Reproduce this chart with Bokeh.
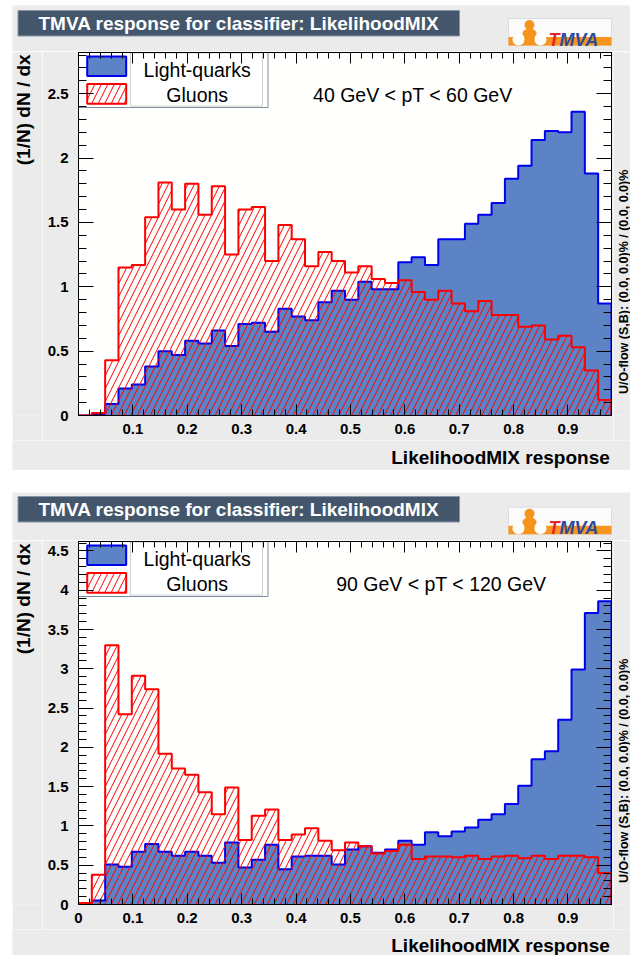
import numpy as np
from bokeh.plotting import figure
from bokeh.models import (FixedTicker, LinearAxis, BoxAnnotation, Label,
                          NumeralTickFormatter, Range1d)
from bokeh.layouts import column, row
from bokeh.embed import file_html
from bokeh.resources import INLINE
from bokeh.core.properties import value

# ---------------- data ----------------
x_low, x_high, n_bins = 0.0, 0.98, 40

top_light_quarks = [0.00, 0.01, 0.09, 0.21, 0.24, 0.38, 0.50, 0.47, 0.58, 0.56,
                    0.66, 0.54, 0.71, 0.72, 0.65, 0.83, 0.77, 0.74, 0.88, 0.97,
                    0.90, 1.04, 0.98, 0.98, 1.19, 1.23, 1.17, 1.37, 1.37, 1.49,
                    1.56, 1.65, 1.84, 1.94, 2.14, 2.21, 2.20, 2.36, 1.88, 0.87]
top_gluons = [0.00, 0.02, 0.43, 1.15, 1.17, 1.54, 1.81, 1.60, 1.80, 1.56,
              1.78, 1.25, 1.60, 1.62, 1.20, 1.48, 1.37, 1.16, 1.27, 1.20,
              1.11, 1.16, 1.06, 1.03, 1.05, 0.96, 0.90, 0.97, 0.87, 0.81,
              0.89, 0.78, 0.78, 0.69, 0.70, 0.59, 0.62, 0.53, 0.35, 0.12]

bottom_light_quarks = [0.00, 0.05, 0.51, 0.48, 0.67, 0.77, 0.67, 0.62, 0.67, 0.62,
                       0.53, 0.79, 0.47, 0.57, 0.76, 0.45, 0.61, 0.62, 0.62, 0.51,
                       0.70, 0.74, 0.66, 0.70, 0.81, 0.76, 0.92, 0.87, 0.93, 0.98,
                       1.08, 1.15, 1.28, 1.51, 1.85, 1.95, 2.35, 2.99, 3.71, 3.86]
bottom_gluons = [0.02, 0.38, 3.30, 2.42, 2.91, 2.74, 1.92, 1.73, 1.65, 1.43,
                 1.15, 1.49, 0.82, 1.13, 1.21, 0.82, 0.89, 0.97, 0.81, 0.69,
                 0.79, 0.74, 0.65, 0.68, 0.76, 0.58, 0.61, 0.61, 0.60, 0.62,
                 0.58, 0.61, 0.62, 0.59, 0.62, 0.58, 0.62, 0.62, 0.60, 0.40]

top_xticks = [0.1, 0.2, 0.3, 0.4, 0.5, 0.6, 0.7, 0.8, 0.9]
bottom_xticks = [0.0, 0.1, 0.2, 0.3, 0.4, 0.5, 0.6, 0.7, 0.8, 0.9]
top_yticks = [0, 0.5, 1, 1.5, 2, 2.5]
bottom_yticks = [0, 0.5, 1, 1.5, 2, 2.5, 3, 3.5, 4, 4.5]
top_ymax = 2.82
bottom_ymax = 4.62

title_text = "TMVA response for classifier: LikelihoodMIX"
series_names = ["Light-quarks", "Gluons"]
top_cut = "40 GeV < pT < 60 GeV"
bottom_cut = "90 GeV < pT < 120 GeV"
x_title = "LikelihoodMIX response"
y_title = "(1/N) dN / dx"
overflow_text = "U/O-flow (S,B): (0.0, 0.0)% / (0.0, 0.0)%"

# ---------------- style ----------------
FONT = "Liberation Sans"
CANVAS = "#ebebeb"
FRAME = "#fffffd"
SIG_FILL = "#5b83c6"
SIG_LINE = "#0000ee"
BKG_LINE = "#ff0000"
TITLE_BOX = "#44566b"
ORANGE = "#f7941d"
PW = 618            # panel width
LW, RW = 30, 17     # left / right strip widths
MW = PW - LW - RW   # main figure width
FL, FR_B = 36, 2    # main figure left / right borders
FT_B, FB_B = 1, 25  # main figure top / bottom borders
FRAME_H = 363


def pixel_fig(w, h):
    f = figure(width=w, height=h, x_range=Range1d(0, w), y_range=Range1d(h, 0),
               output_backend="svg", toolbar_location=None, min_border=0,
               x_axis_type=None, y_axis_type=None, title=None,
               background_fill_color=CANVAS, border_fill_color=CANVAS,
               outline_line_color=None)
    return f


def ptext(f, x, y, text, size, color="black", style="normal", align="left",
          baseline="middle", angle=0.0):
    f.text(x=[x], y=[y], text=[text], text_font=value(FONT),
           text_font_size=value(f"{size}px"), text_font_style=value(style),
           text_color=color, text_align=value(align),
           text_baseline=value(baseline), angle=angle)


def step_polygon(edges, vals):
    xs = np.concatenate([[edges[0]], np.repeat(edges, 2)[1:-1], [edges[-1]]])
    ys = np.concatenate([[0.0], np.repeat(np.asarray(vals, float), 2), [0.0]])
    return xs, ys


def cbox(p, l, r, t, b, **kw):
    opts = dict(fill_alpha=1.0, line_alpha=1.0, line_color=None, level="underlay")
    opts.update(kw)
    p.add_layout(BoxAnnotation(left=l, right=r, top=t, bottom=b,
                               left_units="canvas", right_units="canvas",
                               top_units="canvas", bottom_units="canvas", **opts))


def clabel(p, x, y, text, size, align="left"):
    p.add_layout(Label(x=x, y=y, x_units="canvas", y_units="canvas", text=text,
                       text_font=FONT, text_font_size=f"{size}px",
                       text_color="black", text_align=align,
                       text_baseline="middle"))


def style_axis(ax, major_in, minor_in, labels):
    ax.axis_line_color = "black"
    ax.axis_line_width = 1
    ax.major_tick_in = major_in
    ax.major_tick_out = 0
    ax.minor_tick_in = minor_in
    ax.minor_tick_out = 0
    ax.major_tick_line_color = "black"
    ax.minor_tick_line_color = "black"
    if labels:
        ax.major_label_text_font = FONT
        ax.major_label_text_font_style = "bold"
        ax.major_label_text_font_size = "15px"
        ax.major_label_text_color = "black"
    else:
        ax.major_label_text_font_size = "0px"
        ax.major_label_text_alpha = 0
        ax.major_label_standoff = 0


def make_panel(height, header_h, title_y, logo_y, sig, bkg, xticks, yticks,
               ymax, cut_text, cut_dx, xtitle_y):
    main_h = FT_B + FRAME_H + FB_B
    footer_h = height - header_h - main_h

    # ---- header: title box and logo ----
    hd = pixel_fig(PW, header_h)
    hd.quad(left=[5.5], right=[447], top=[title_y], bottom=[title_y + 25.5],
            fill_color=TITLE_BOX, line_color="#8795a8", line_width=1)
    ptext(hd, 26, title_y + 13, title_text, 19, color="white", style="bold")
    lx, ly = 496, logo_y
    hd.quad(left=[lx], right=[lx + 103], top=[ly], bottom=[ly + 27],
            fill_color="#fbfbfb", line_color="#dcdcdc")
    hd.quad(left=[lx], right=[lx + 103], top=[ly + 18.5], bottom=[ly + 27],
            fill_color=ORANGE, line_color=None)
    hd.ellipse(x=[lx + 21], y=[ly + 15], width=[14], height=[10],
               fill_color=ORANGE, line_color=None)
    hd.circle(x=[lx + 21], y=[ly + 6.5], radius=5, fill_color=ORANGE,
              line_color=None)
    hd.circle(x=[lx + 10, lx + 32], y=[ly + 21, ly + 21], radius=6,
              fill_color="white", line_color=None)
    ptext(hd, lx + 40, ly + 21, "T", 18, color="#e5232b", style="bold italic",
          baseline="alphabetic")
    ptext(hd, lx + 51, ly + 21, "MVA", 18, color="#2b4b9f", style="bold italic",
          baseline="alphabetic")

    # ---- left strip: y title ----
    lf = pixel_fig(LW, main_h)
    ptext(lf, 11, FT_B + 1, y_title, 19, style="bold", align="right",
          angle=np.pi / 2)

    # ---- right strip: under/overflow text ----
    rf = pixel_fig(RW, main_h)
    ptext(rf, 10.5, FT_B + FRAME_H + 2, overflow_text, 12.5, style="bold",
          align="left", baseline="alphabetic", angle=np.pi / 2)

    # ---- footer: x title ----
    ft_fig = pixel_fig(PW, footer_h)
    ptext(ft_fig, 597.3, xtitle_y, x_title, 19, style="bold", align="right")

    # ---- main plot ----
    p = figure(width=MW, height=main_h, x_range=Range1d(x_low, x_high),
               y_range=Range1d(0, ymax), output_backend="svg",
               toolbar_location=None, title=None, min_border_left=FL,
               min_border_right=FR_B, min_border_top=FT_B,
               min_border_bottom=FB_B, background_fill_color=FRAME,
               border_fill_color=CANVAS, outline_line_color="black",
               outline_line_width=1)
    p.grid.visible = False

    edges = np.linspace(x_low, x_high, n_bins + 1)
    sx, sy = step_polygon(edges, sig)
    bx, by = step_polygon(edges, bkg)
    p.patch(sx, sy, fill_color=SIG_FILL, line_color=None)
    p.line(sx, sy, line_color=SIG_LINE, line_width=2)
    p.patch(bx, by, fill_alpha=0, line_color=None, hatch_pattern="/",
            hatch_color=BKG_LINE, hatch_scale=13, hatch_weight=1)
    p.line(bx, by, line_color=BKG_LINE, line_width=2)

    x_minor = list(np.round(np.arange(0, x_high + 1e-9, 0.02), 3))
    y_minor = list(np.round(np.arange(0, ymax + 1e-9, 0.1), 3))
    p.xaxis.ticker = FixedTicker(ticks=xticks, minor_ticks=x_minor)
    p.yaxis.ticker = FixedTicker(ticks=yticks, minor_ticks=y_minor)
    p.xaxis.formatter = NumeralTickFormatter(format="0.[0]")
    p.yaxis.formatter = NumeralTickFormatter(format="0.[0]")
    style_axis(p.xaxis[0], 11, 6, True)
    style_axis(p.yaxis[0], 15, 8, True)
    p.xaxis.major_label_standoff = 8
    p.yaxis.major_label_standoff = 10

    top_ax = LinearAxis(ticker=FixedTicker(ticks=xticks, minor_ticks=x_minor))
    right_ax = LinearAxis(ticker=FixedTicker(ticks=yticks, minor_ticks=y_minor))
    style_axis(top_ax, 11, 6, False)
    style_axis(right_ax, 15, 8, False)
    p.add_layout(top_ax, "above")
    p.add_layout(right_ax, "right")

    # legend (inside the frame, under the axes ticks)
    fl, ft = FL, FT_B
    cbox(p, fl, fl + 189.5, ft, ft + 55, fill_color="white",
         line_color="#7d8b9d", line_width=1)
    cbox(p, fl + 52, fl + 184, ft + 0.5, ft + 53.5, fill_color="white",
         line_color="#cfcfcf", line_width=1)
    cbox(p, fl + 8.7, fl + 47.7, ft + 4, ft + 23.5, fill_color=SIG_FILL,
         line_color=SIG_LINE, line_width=2)
    cbox(p, fl + 8.7, fl + 47.7, ft + 31.5, ft + 51.3, fill_color="white",
         line_color=BKG_LINE, line_width=2, hatch_pattern="/",
         hatch_color=BKG_LINE, hatch_scale=13, hatch_weight=1)
    clabel(p, fl + 118.7, ft + 17.7, series_names[0], 19.5, align="center")
    clabel(p, fl + 118.7, ft + 42.3, series_names[1], 19.5, align="center")
    clabel(p, fl + cut_dx, ft + 42.6, cut_text, 19.5, align="center")

    return column(hd, row(lf, p, rf), ft_fig)


panel1 = make_panel(465, 46, 5, 13, top_light_quarks, top_gluons, top_xticks,
                    top_yticks, top_ymax, top_cut, 334.3, 16.7)
panel2 = make_panel(463, 48, 4, 14.7, bottom_light_quarks, bottom_gluons,
                    bottom_xticks, bottom_yticks, bottom_ymax, bottom_cut,
                    362.8, 15.5)

layout = column(panel1, panel2, spacing=22, margin=(5, 0, 0, 12))
open("out.html", "w").write(file_html(layout, INLINE))
